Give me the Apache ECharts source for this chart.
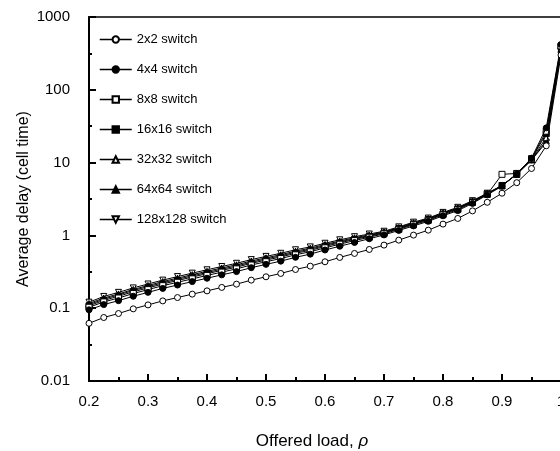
<!DOCTYPE html>
<html>
<head>
<meta charset="utf-8">
<script src="https://cdn.jsdelivr.net/npm/echarts@6/dist/echarts.min.js"></script>
<style>
  html, body { margin: 0; padding: 0; background: #fff; overflow: hidden; }
  #delay-chart { width: 570px; height: 451px; }
</style>
</head>
<body>
<div id="delay-chart"></div>
<script>
// offered load (x) values
const loads = [0.2, 0.225, 0.25, 0.275, 0.3, 0.325, 0.35, 0.375, 0.4, 0.425, 0.45, 0.475, 0.5,
  0.525, 0.55, 0.575, 0.6, 0.625, 0.65, 0.675, 0.7, 0.725, 0.75, 0.775, 0.8,
  0.825, 0.85, 0.875, 0.9, 0.925, 0.95, 0.975, 1.0]

// average delay (cell time)
const sw2 = [0.062, 0.0745, 0.0845, 0.098, 0.111, 0.126, 0.140, 0.156, 0.173, 0.193, 0.214, 0.243, 0.270,
  0.300, 0.340, 0.378, 0.434, 0.498, 0.565, 0.641, 0.736, 0.861, 1.01, 1.18, 1.43,
  1.71, 2.17, 2.85, 3.8, 5.3, 8.3, 17, 300]
const sw4 = [0.095, 0.112, 0.127, 0.146, 0.165, 0.187, 0.208, 0.232, 0.258, 0.287, 0.318, 0.360, 0.400,
  0.443, 0.500, 0.553, 0.63, 0.71, 0.80, 0.90, 1.015, 1.17, 1.35, 1.56, 1.86,
  2.19, 2.75, 3.6, 4.75, 7.0, 11.5, 30, 420]
const sw8 = [0.103, 0.122, 0.138, 0.159, 0.180, 0.204, 0.227, 0.253, 0.282, 0.313, 0.347, 0.392, 0.435,
  0.481, 0.541, 0.596, 0.675, 0.758, 0.848, 0.944, 1.053, 1.21, 1.40, 1.61, 1.92,
  2.26, 2.83, 3.66, 6.9, 7.1, 11.3, 27, 400]
const sw16 = [0.108, 0.128, 0.146, 0.168, 0.190, 0.215, 0.240, 0.268, 0.298, 0.331, 0.366, 0.413, 0.458,
  0.506, 0.568, 0.624, 0.705, 0.79, 0.88, 0.973, 1.078, 1.24, 1.435, 1.645, 1.965,
  2.31, 2.88, 3.7, 4.8, 7.0, 11.2, 25, 390]
const sw32 = [0.112, 0.133, 0.152, 0.175, 0.198, 0.223, 0.250, 0.278, 0.309, 0.344, 0.380, 0.428, 0.475,
  0.524, 0.588, 0.645, 0.728, 0.814, 0.904, 0.994, 1.096, 1.26, 1.46, 1.67, 1.995,
  2.35, 2.91, 3.73, 4.82, 6.95, 11.0, 22, 370]
const sw64 = [0.116, 0.138, 0.157, 0.181, 0.205, 0.232, 0.259, 0.289, 0.321, 0.357, 0.395, 0.444, 0.492,
  0.543, 0.608, 0.667, 0.75, 0.838, 0.928, 1.016, 1.115, 1.28, 1.49, 1.70, 2.03,
  2.38, 2.95, 3.76, 4.84, 6.9, 10.9, 20, 355]
const sw128 = [0.121, 0.145, 0.165, 0.190, 0.215, 0.243, 0.272, 0.303, 0.337, 0.374, 0.414, 0.465, 0.515,
  0.568, 0.635, 0.695, 0.78, 0.87, 0.96, 1.045, 1.14, 1.31, 1.52, 1.73, 2.07,
  2.43, 3.0, 3.8, 4.85, 6.9, 10.8, 19, 340]

const seriesNames = ['2x2 switch', '4x4 switch', '8x8 switch', '16x16 switch',
  '32x32 switch', '64x64 switch', '128x128 switch']
const seriesValues = [sw2, sw4, sw8, sw16, sw32, sw64, sw128]
const markers = [
  { symbol: 'circle', fill: '#fff' },
  { symbol: 'circle', fill: '#000' },
  { symbol: 'rect', fill: '#fff' },
  { symbol: 'rect', fill: '#000' },
  { symbol: 'triangle', fill: '#fff' },
  { symbol: 'triangle', fill: '#000' },
  { symbol: 'path://M0,0 L10,0 L5,9 Z', fill: '#fff' }
]
const yTicks = [0.01, 0.1, 1, 10, 100, 1000]

const FONT = '"Liberation Sans", Arial, sans-serif'

const series = seriesNames.map((name, i) => ({
  name: name,
  type: 'line',
  yAxisIndex: 0,
  data: loads.map((x, j) => [x, seriesValues[i][j]]),
  symbol: markers[i].symbol,
  symbolSize: 6,
  showAllSymbol: true,
  clip: false,
  lineStyle: { color: '#000', width: 1 },
  itemStyle: { color: markers[i].fill, borderColor: '#000', borderWidth: 1 },
  emphasis: { disabled: true },
  z: 10 - i
}))

const chart = echarts.init(document.getElementById('delay-chart'), null, { renderer: 'canvas' })

const option = {
  animation: false,
  textStyle: { fontFamily: FONT, color: '#000' },
  grid: {
    left: 89,
    top: 17,
    right: 9,
    bottom: 70,
    outerBoundsMode: 'none',
    containLabel: false,
    show: true,
    borderColor: '#000',
    borderWidth: 1.5
  },
  legend: {
    orient: 'vertical',
    left: 94,
    top: 28,
    itemWidth: 32,
    itemHeight: 8,
    itemGap: 17,
    data: seriesNames,
    textStyle: { fontFamily: FONT, fontSize: 13, color: '#000' },
    lineStyle: { width: 1.5 }
  },
  xAxis: {
    type: 'value',
    min: 0.2,
    max: 1.0,
    interval: 0.1,
    name: 'Offered load, {i|ρ}',
    nameLocation: 'middle',
    nameGap: 52,
    nameMoveOverlap: false,
    nameTextStyle: {
      fontFamily: FONT, fontSize: 17, color: '#000', padding: [0, 26, 0, 0],
      rich: { i: { fontFamily: FONT, fontSize: 17, fontStyle: 'italic', color: '#000' } }
    },
    axisLine: { onZero: false, lineStyle: { color: '#000', width: 2 } },
    axisTick: { inside: true, length: 7, lineStyle: { color: '#000', width: 2 } },
    minorTick: { show: true, splitNumber: 2, length: 4, lineStyle: { color: '#000', width: 2 } },
    axisLabel: {
      fontFamily: FONT, fontSize: 15, color: '#000', margin: 13,
      formatter: v => (Math.abs(v - 1) < 1e-9 ? '1' : v.toFixed(1))
    },
    splitLine: { show: false }
  },
  yAxis: [
    {
      type: 'log',
      logBase: 10,
      min: 0.01,
      max: 1000,
      name: 'Average delay (cell time)',
      nameLocation: 'middle',
      nameGap: 57,
      nameMoveOverlap: false,
      nameTextStyle: { fontFamily: FONT, fontSize: 16, color: '#000' },
      axisLine: { show: true, lineStyle: { color: '#000', width: 2 } },
      axisTick: { inside: true, length: 7, lineStyle: { color: '#000', width: 2 } },
      axisLabel: {
        fontFamily: FONT, fontSize: 15, color: '#000', margin: 19,
        formatter: v => {
          const hit = yTicks.find(t => Math.abs(Math.log10(t) - Math.log10(v)) < 1e-6)
          return hit !== undefined ? String(hit) : ''
        }
      },
      splitLine: { show: false }
    },
    {
      // half-decade ticks only (minor marks)
      type: 'log',
      logBase: Math.sqrt(10),
      min: 0.01,
      max: 1000,
      splitNumber: 10,
      position: 'left',
      axisLine: { show: false },
      axisTick: { inside: true, length: 3, lineStyle: { color: '#000', width: 2 } },
      axisLabel: { show: false },
      splitLine: { show: false }
    }
  ],
  series: series
}

chart.setOption(option)
</script>
</body>
</html>
